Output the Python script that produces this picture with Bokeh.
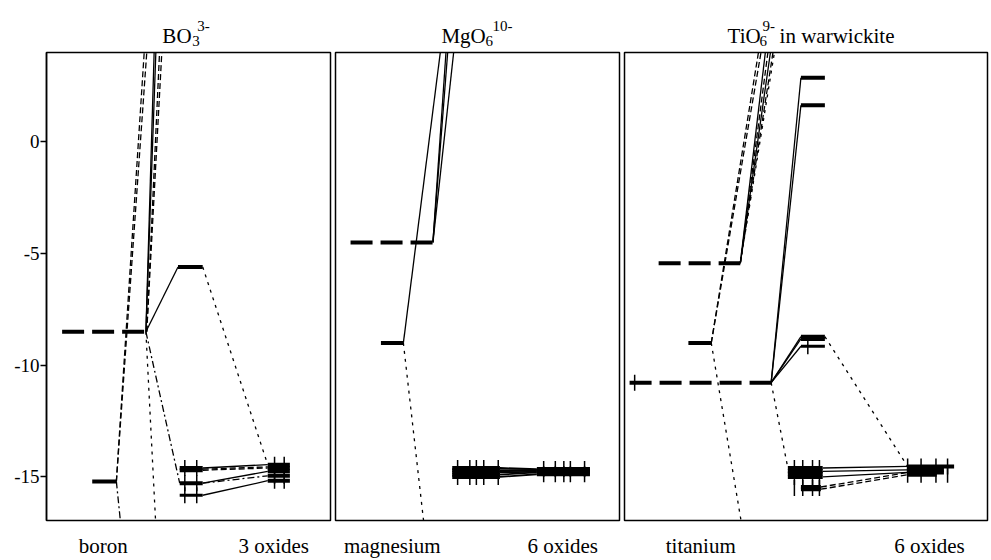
import numpy as np
from bokeh.plotting import figure
from bokeh.layouts import row, column
from bokeh.models import FixedTicker, Range1d
from bokeh.core.properties import value
from bokeh.embed import file_html
from bokeh.resources import INLINE

# ---------------- data ----------------
Y_TOP, Y_BOT = 4.0, -16.95
Y_TICKS = [0, -5, -10, -15]
FONT = "Liberation Serif"

# levels: (x_start, x_end, energy, kind)   kind: p (dashed atomic), s (solid atomic), mo, mo_thin
# links:  (x_a, e_a, x_b, e_b, style)
# ticks:  (x, energy)

# ---- BO3 3- ----
bo3_levels = [
    (5.5, 35.0, -8.5, "p"),       # boron 2p
    (16.1, 24.6, -15.2, "s"),     # boron 2s
    (46.3, 55.0, -5.6, "mo"),
    (46.9, 55.0, -14.6, "mo"), (46.9, 55.0, -14.7, "mo"),
    (46.9, 55.0, -15.28, "mo"), (46.9, 55.0, -15.82, "mo_thin"),
    (77.9, 85.7, -14.45, "mo"), (77.9, 85.7, -14.6, "mo"), (77.9, 85.7, -14.75, "mo"),
    (77.9, 85.7, -14.95, "mo"), (77.9, 85.7, -15.17, "mo"),
]
bo3_links = [
    (35.0, -8.5, 46.3, -5.6, "solid"),
    (55.0, -5.6, 77.9, -14.45, "dotted"),
    (35.0, -8.5, 46.9, -15.28, "dashdot"),
    (35.0, -8.5, 38.4, Y_BOT, "dotted"),
    (24.6, -15.2, 26.0, Y_BOT, "dashdot"),
    (24.6, -15.2, 34.4, Y_TOP, "dashed"),
    (24.6, -15.2, 35.3, Y_TOP, "dashed"),
    (35.0, -8.5, 37.9, Y_TOP, "solid"),
    (35.0, -8.5, 38.5, Y_TOP, "solid"),
    (35.3, -8.5, 39.8, Y_TOP, "dashed"),
    (35.3, -8.5, 40.6, Y_TOP, "dashed"),
    (55.0, -14.6, 77.9, -14.45, "solid"),
    (55.0, -14.65, 77.9, -14.55, "dashed"),
    (55.0, -14.7, 77.9, -14.6, "dashed"),
    (55.0, -15.28, 77.9, -14.95, "dashdot"),
    (55.0, -15.28, 77.9, -14.75, "solid"),
    (55.0, -15.82, 77.9, -15.17, "solid"),
]
bo3_ticks = [(x, e) for x in (48.7, 52.9) for e in (-14.6, -15.28, -15.82)] + \
            [(x, e) for x in (80.3, 83.7) for e in (-14.45, -14.95, -15.17)]

# ---- MgO6 10- ----
mgo_levels = [
    (5.3, 34.3, -4.5, "p"),       # magnesium 3p
    (16.0, 23.9, -9.0, "s"),      # magnesium 3s
    (41.1, 57.9, -14.6, "mo"), (41.1, 57.9, -14.7, "mo"), (41.1, 57.9, -14.8, "mo"),
    (41.1, 57.9, -14.9, "mo"), (41.1, 57.9, -15.0, "mo"),
    (70.9, 89.6, -14.65, "mo"), (70.9, 89.6, -14.72, "mo"),
    (70.9, 89.6, -14.8, "mo"), (70.9, 89.6, -14.88, "mo"),
]
mgo_links = [
    (34.3, -4.5, 38.9, Y_TOP, "solid"),
    (34.3, -4.5, 39.5, Y_TOP, "solid"),
    (34.3, -4.5, 41.6, Y_TOP, "solid"),
    (23.9, -9.0, 36.9, Y_TOP, "solid"),
    (23.9, -9.0, 31.0, Y_BOT, "dotted"),
    (57.9, -14.6, 70.9, -14.65, "band"),
    (57.9, -14.7, 70.9, -14.68, "band"),
    (57.9, -14.75, 70.9, -14.72, "band"),
    (57.9, -14.8, 70.9, -14.76, "band"),
    (57.9, -14.9, 70.9, -14.8, "band"),
    (57.9, -15.0, 70.9, -14.88, "band"),
]
mgo_ticks = [(x, e) for x in (43.0, 47.3, 49.6, 52.2, 57.3) for e in (-14.6, -15.0)] + \
            [(x, e) for x in (73.3, 77.4, 80.4, 82.7, 87.7) for e in (-14.65, -14.88)]

# ---- TiO6 9- ----
tio_levels = [
    (9.4, 31.9, -5.43, "p"),      # titanium 4p
    (17.6, 23.9, -9.0, "s"),      # titanium 4s
    (1.4, 40.4, -10.78, "p"),     # titanium 3d
    (48.6, 55.2, 2.87, "mo"), (48.6, 55.2, 1.64, "mo"),
    (48.6, 55.2, -8.72, "mo"), (48.6, 55.2, -8.82, "mo"), (48.6, 55.2, -9.15, "mo_thin"),
    (45.0, 54.6, -14.6, "mo"), (45.0, 54.6, -14.75, "mo"), (45.0, 54.6, -14.85, "mo"),
    (45.0, 54.6, -15.0, "mo"),
    (48.6, 54.1, -15.45, "mo"), (48.6, 54.1, -15.55, "mo"),
    (78.0, 90.8, -14.53, "mo"), (78.0, 88.0, -14.68, "mo"),
    (78.0, 88.0, -14.8, "mo"), (78.0, 86.0, -14.9, "mo"),
]
tio_links = [
    (40.4, -10.78, 48.6, 2.87, "solid"),
    (40.4, -10.78, 48.6, 1.64, "solid"),
    (40.4, -10.78, 48.6, -8.72, "solid"),
    (40.4, -10.78, 48.6, -8.82, "solid"),
    (40.4, -10.78, 48.6, -9.15, "solid"),
    (31.9, -5.43, 38.8, Y_TOP, "solid"),
    (31.9, -5.43, 39.5, Y_TOP, "dashed"),
    (31.9, -5.43, 40.2, Y_TOP, "solid"),
    (31.9, -5.43, 40.9, Y_TOP, "dashed"),
    (31.9, -5.43, 41.3, Y_TOP, "dotted"),
    (23.9, -9.0, 36.9, Y_TOP, "dashed"),
    (23.9, -9.0, 37.6, Y_TOP, "dashed"),
    (23.9, -9.0, 32.1, Y_BOT, "dotted"),
    (40.4, -10.78, 45.0, -14.6, "dotted"),
    (55.2, -8.72, 78.0, -14.53, "dotted"),
    (54.6, -14.6, 78.0, -14.53, "solid"),
    (54.6, -14.75, 78.0, -14.68, "solid"),
    (54.6, -15.0, 78.0, -14.8, "solid"),
    (54.1, -15.45, 78.0, -14.8, "dashed"),
    (54.1, -15.55, 78.0, -14.9, "dashed"),
]
tio_ticks = [(2.8, -10.78), (50.5, -9.15)] + \
            [(x, e) for x in (46.8, 49.1, 51.8, 53.7) for e in (-14.6, -15.0, -15.5)] + \
            [(x, e) for x in (78.0, 81.7, 85.8, 89.0) for e in (-14.53, -14.9)]

# titles: (main, sub, sup, rest) and bottom labels (centre position, text)
titles = [("BO", "3", "3-", ""), ("MgO", "6", "10-", ""), ("TiO", "6", "9-", "in warwickite")]
bottom_labels = [{20: "boron", 80: "3 oxides"},
                 {20: "magnesium", 80: "6 oxides"},
                 {21: "titanium", 84: "6 oxides"}]

# ---------------- drawing ----------------
DASH = {"solid": ("solid", 1.3), "dashed": ("6 3", 1.3), "dotted": ("3 5", 1.3),
        "dashdot": ("7 3 2 3", 1.3), "band": ("solid", 1.8)}
LEVEL_STYLE = {"p": ("22 8", 4), "s": ("solid", 4), "mo": ("solid", 4), "mo_thin": ("solid", 3)}

TOP_H, BOT_B = 50, 38
MAIN_H = 2 + 470 + BOT_B
WIDTHS = [(332, 46, 2), (289, 3, 2), (368, 3, 2)]


def clean(p):
    p.grid.grid_line_color = None
    p.background_fill_color = "white"
    p.border_fill_color = "white"


def make_fig(width, left, right, with_axis, labels):
    p = figure(width=width, height=MAIN_H, x_range=Range1d(0, 100), y_range=Range1d(Y_BOT, Y_TOP),
               output_backend="svg", toolbar_location=None,
               x_axis_type="linear", y_axis_type="linear" if with_axis else None,
               min_border_left=left, min_border_right=right,
               min_border_top=2, min_border_bottom=BOT_B)
    clean(p)
    p.outline_line_color = "black"
    p.outline_line_width = 1.5
    p.outline_line_alpha = 1
    xa = p.xaxis[0]
    xa.ticker = FixedTicker(ticks=list(labels.keys()))
    xa.major_label_overrides = labels
    xa.axis_line_color = None
    xa.major_tick_line_color = None
    xa.minor_tick_line_color = None
    xa.major_tick_in = 0
    xa.major_tick_out = 0
    xa.major_label_standoff = 13
    xa.major_label_text_font = FONT
    xa.major_label_text_font_size = "21px"
    xa.major_label_text_color = "black"
    if with_axis:
        ax = p.yaxis[0]
        ax.ticker = FixedTicker(ticks=Y_TICKS)
        ax.major_label_overrides = {t: str(t) for t in Y_TICKS}
        ax.minor_tick_line_color = None
        ax.major_tick_in = 0
        ax.major_tick_out = 6
        ax.major_tick_line_width = 1.5
        ax.axis_line_width = 1.5
        ax.major_label_standoff = 1
        ax.major_label_text_font = FONT
        ax.major_label_text_font_size = "19px"
        ax.major_label_text_color = "black"
    return p


def aux_fig(width, left, right, height, xr, yr):
    f = figure(width=width, height=height, x_range=xr, y_range=yr,
               output_backend="svg", toolbar_location=None,
               x_axis_type=None, y_axis_type=None,
               min_border_left=left, min_border_right=right,
               min_border_top=0, min_border_bottom=0)
    clean(f)
    f.outline_line_color = None
    return f


def draw(p, levels, links, ticks):
    for style, (dash, w) in DASH.items():
        sel = [l for l in links if l[4] == style]
        if sel:
            p.segment(x0=[l[0] for l in sel], y0=[l[1] for l in sel],
                      x1=[l[2] for l in sel], y1=[l[3] for l in sel],
                      line_color="black", line_width=w, line_dash=dash)
    for kind, (dash, w) in LEVEL_STYLE.items():
        sel = [l for l in levels if l[3] == kind]
        if sel:
            p.segment(x0=[l[0] for l in sel], y0=[l[2] for l in sel],
                      x1=[l[1] for l in sel], y1=[l[2] for l in sel],
                      line_color="black", line_width=w, line_dash=dash, line_cap="butt")
    if ticks:
        p.scatter(x=[t[0] for t in ticks], y=[t[1] for t in ticks], marker="dash",
                  angle=np.pi / 2, size=16, line_color="black", line_width=1.5)


def txt(f, x, y, t, size, dx=0):
    f.text(x=[x], y=[y], text=[t], x_offset=dx, text_font=value(FONT),
           text_font_size=value(size), text_color="black",
           text_baseline="alphabetic", text_align="left")


mains = [make_fig(w, l, r, i == 0, bottom_labels[i]) for i, (w, l, r) in enumerate(WIDTHS)]
tops = [aux_fig(w, l, r, TOP_H, m.x_range, Range1d(TOP_H, 0)) for (w, l, r), m in zip(WIDTHS, mains)]

draw(mains[0], bo3_levels, bo3_links, bo3_ticks)
draw(mains[1], mgo_levels, mgo_links, mgo_ticks)
draw(mains[2], tio_levels, tio_links, tio_ticks)

# titles (x in panel units, pixel offsets for sub/superscripts)
title_x = [40.8, 37.3, 28.4]
title_off = [(30, 35, 0), (44, 51, 0), (32, 35, 52)]
for f, x, parts, off in zip(tops, title_x, titles, title_off):
    main, sub, sup, rest = parts
    txt(f, x, 35, main, "21px")
    txt(f, x, 40, sub, "15px", off[0])
    txt(f, x, 25, sup, "15px", off[1])
    if rest:
        txt(f, x, 35, rest, "21px", off[2])

layout = column(row(*tops, spacing=0), row(*mains, spacing=0), spacing=0)
open("out.html", "w").write(file_html(layout, INLINE))
